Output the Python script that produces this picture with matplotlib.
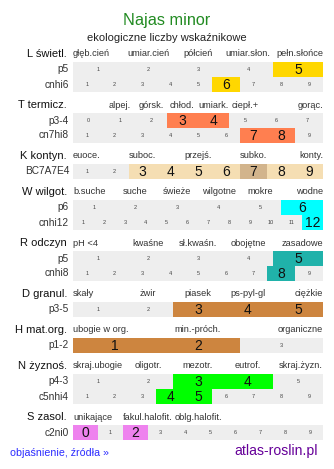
import matplotlib
matplotlib.use("Agg")
import matplotlib.pyplot as plt
from matplotlib.patches import Rectangle

plt.rcParams['font.family'] = ['Liberation Sans', 'DejaVu Sans']

# ---------------- data ----------------
title = "Najas minor"
subtitle = "ekologiczne liczby wskaźnikowe"

block_names = ["L świetl.", "T termicz.", "K kontyn.", "W wilgot.", "R odczyn",
               "D granul.", "H mat.org.", "N żyznoś.", "S zasol."]

L_labels = ["głęb.cień", "umiar.cień", "półcień", "umiar.słon.", "pełn.słońce"]
T_labels = ["", "alpej.", "górsk.", "chłod.", "umiark.", "ciepł.+", "", "gorąc."]
K_labels = ["euoce.", "", "suboc.", "", "przejś.", "", "subko.", "", "konty."]
W_labels = ["b.suche", "suche", "świeże", "wilgotne", "mokre", "wodne"]
R_labels = ["pH <4", "kwaśne", "sł.kwaśn.", "obojętne", "zasadowe"]
D_labels = ["skały", "żwir", "piasek", "ps-pyl-gl", "ciężkie"]
H_labels = ["ubogie w org.", "min.-próch.", "organiczne"]
N_labels = ["skraj.ubogie", "oligotr.", "mezotr.", "eutrof.", "skraj.żyzn."]
S_labels = ["unikające", "fakul.halofit.", "oblg.halofit.", "", ""]
header_labels = [L_labels, T_labels, K_labels, W_labels, R_labels,
                 D_labels, H_labels, N_labels, S_labels]

# rows per block: name, first value, last value, highlighted values
L_rows = [("p5", 1, 5, [5]), ("cnhi6", 1, 9, [6])]
T_rows = [("p3-4", 0, 7, [3, 4]), ("cn7hi8", 1, 9, [7, 8])]
K_rows = [("BC7A7E4", 1, 9, [3, 4, 5, 6, 7, 8, 9])]
W_rows = [("p6", 1, 6, [6]), ("cnhi12", 1, 12, [12])]
R_rows = [("p5", 1, 5, [5]), ("cnhi8", 1, 9, [8])]
D_rows = [("p3-5", 1, 5, [3, 4, 5])]
H_rows = [("p1-2", 1, 3, [1, 2])]
N_rows = [("p4-3", 1, 5, [3, 4]), ("c5nhi4", 1, 9, [4, 5])]
S_rows = [("c2ni0", 0, 9, [0, 2])]
block_rows = [L_rows, T_rows, K_rows, W_rows, R_rows, D_rows, H_rows, N_rows, S_rows]

block_colors = ["#ffd700", "#ff7f50", "#f5deb3", "#00ffff", "#20b2aa",
                "#cd853f", "#cd853f", "#00ff00", "#ee82ee"]
K_special = {7: "#d2b48c"}

footer_left = "objaśnienie, źródła »"
footer_right = "atlas-roslin.pl"

# ---------------- layout ----------------
W, H = 334, 469
fig = plt.figure(figsize=(W / 100, H / 100), dpi=100)
ax = fig.add_axes([0, 0, 1, 1])
ax.set_xlim(0, W)
ax.set_ylim(H, 0)
ax.axis("off")

x0, x1 = 73, 323
bar_w = x1 - x0
rh = 15
grey = "#eeeeee"

ax.text(W / 2, 20, title, ha="center", va="center", fontsize=11.7, color="#228b22")
ax.text(W / 2, 38, subtitle, ha="center", va="center", fontsize=8, color="#222222")

y = 54
for bi, name in enumerate(block_names):
    ax.text(67, y, name, ha="right", va="center", fontsize=8, color="#111111")
    labs = header_labels[bi]
    n = len(labs)
    cw = bar_w / n
    for i, lab in enumerate(labs):
        if not lab:
            continue
        if i == 0:
            ax.text(x0, y, lab, ha="left", va="center", fontsize=6.7, color="#333333")
        elif i == n - 1:
            ax.text(x1, y, lab, ha="right", va="center", fontsize=6.7, color="#333333")
        else:
            ax.text(x0 + (i + 0.5) * cw, y, lab, ha="center", va="center",
                    fontsize=6.7, color="#333333")
    ry = y + 8
    for (rname, v0, v1, hl) in block_rows[bi]:
        vals = list(range(v0, v1 + 1))
        cw = bar_w / len(vals)
        ax.text(69, ry + rh / 2, rname, ha="right", va="center", fontsize=7.3,
                color="#333333")
        for j, v in enumerate(vals):
            cx = x0 + j * cw
            if v in hl:
                col = block_colors[bi]
                if bi == 2 and v in K_special:
                    col = K_special[v]
                ax.add_patch(Rectangle((cx, ry), cw, rh, facecolor=col,
                                       edgecolor="none"))
                ax.text(cx + cw / 2, ry + rh / 2 + 0.5, str(v), ha="center",
                        va="center", fontsize=10, color="#111111")
            else:
                ax.add_patch(Rectangle((cx, ry), cw, rh, facecolor=grey,
                                       edgecolor="none"))
                ax.text(cx + cw / 2, ry + rh / 2, str(v), ha="center",
                        va="center", fontsize=4, color="#444444")
        ry += rh
    y = ry + 13

ax.text(10, 453, footer_left, ha="left", va="center", fontsize=7.7, color="#2b2bff")
ax.text(318, 451, footer_right, ha="right", va="center", fontsize=10.1, color="#660099")

fig.savefig("out.png", dpi=100)
